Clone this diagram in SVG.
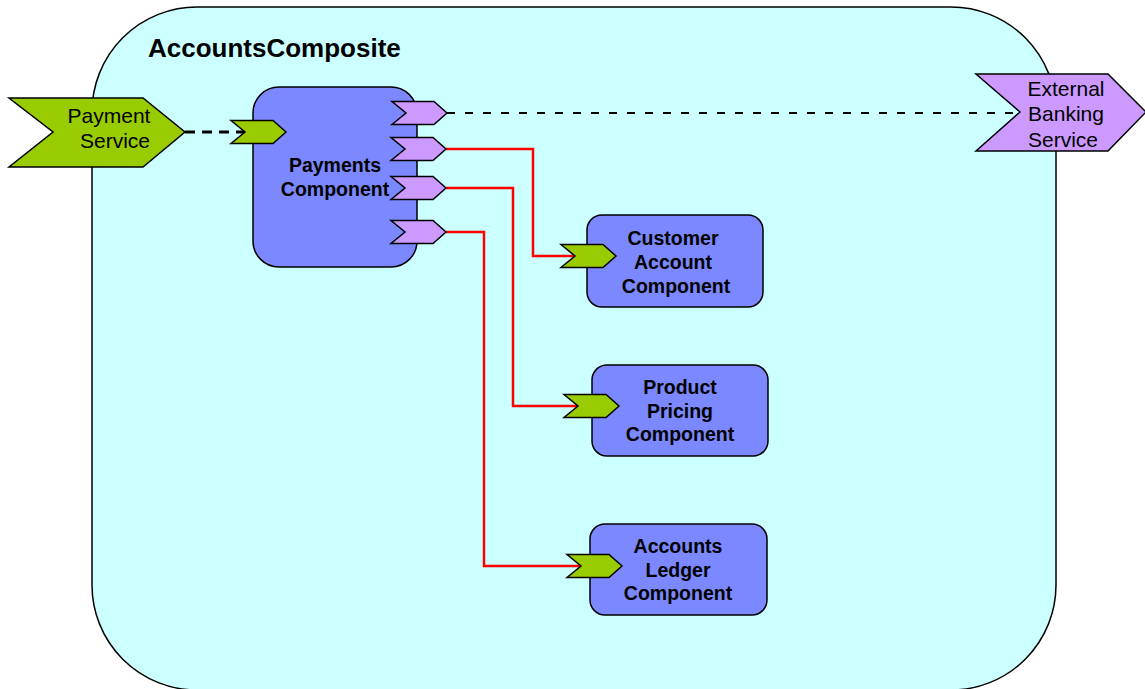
<svg xmlns="http://www.w3.org/2000/svg" width="1145" height="689" viewBox="0 0 1145 689">
  <style>
    .composite { fill: #CCFFFF; stroke: #000; stroke-width: 1.5; }
    .component { fill: #7B88FF; stroke: #000; stroke-width: 1.5; }
    .service { fill: #99CC00; stroke: #000; stroke-width: 1.5; stroke-linejoin: miter; }
    .reference { fill: #CC99FF; stroke: #000; stroke-width: 1.5; stroke-linejoin: miter; }
    .wire { fill: none; stroke: #FF0000; stroke-width: 2.5; }
    .promote { fill: none; stroke: #000; stroke-width: 3; stroke-dasharray: 10 7; }
    .binding { fill: none; stroke: #000; stroke-width: 2; stroke-dasharray: 8 10; }
    .title { font-family: "Liberation Sans", Arial, sans-serif; font-weight: bold; font-size: 26px; fill: #000; }
    .label { font-family: "Liberation Sans", Arial, sans-serif; font-weight: bold; font-size: 19.5px; fill: #000; text-anchor: middle; }
    .ext { font-family: "Liberation Sans", Arial, sans-serif; font-size: 21px; fill: #000; text-anchor: middle; }
  </style>
  <defs>
    <!-- chevron port shape, 55 wide, 23 high, origin at the left edge mid-height -->
    <path id="port" d="M0,-11.5 H42 L55,0 L42,11.5 H0 L14,0 Z"/>
  </defs>

  <g id="AccountsComposite">
    <rect class="composite" x="92" y="7" width="964" height="683" rx="105" ry="105"/>
    <text class="title" x="148" y="57">AccountsComposite</text>
  </g>

  <g id="connectors">
    <path class="promote" d="M185,132 H245"/>
    <path class="binding" d="M447,113 H1020"/>
    <path class="wire" d="M446,149 H533 V256 H575"/>
    <path class="wire" d="M446,188 H513 V406 H578"/>
    <path class="wire" d="M446,232 H484 V566 H580"/>
  </g>

  <g id="PaymentService">
    <polygon class="service" points="9,98 143,98 185,132 143,167 9,167 53,132"/>
    <text class="ext" x="109" y="123">Payment</text>
    <text class="ext" x="115" y="148">Service</text>
  </g>

  <g id="ExternalBankingService">
    <polygon class="reference" points="976,74 1108,74 1146,112 1108,151 976,151 1020,112"/>
    <text class="ext" x="1066" y="96">External</text>
    <text class="ext" x="1066" y="121">Banking</text>
    <text class="ext" x="1063" y="147">Service</text>
  </g>

  <g id="PaymentsComponent">
    <rect class="component" x="253" y="87" width="164" height="180" rx="26" ry="26"/>
    <use href="#port" class="service" x="231" y="132"/>
    <use href="#port" class="reference" x="392" y="113"/>
    <use href="#port" class="reference" x="391" y="149"/>
    <use href="#port" class="reference" x="391" y="188"/>
    <use href="#port" class="reference" x="391" y="232"/>
    <text class="label" x="335" y="172">Payments</text>
    <text class="label" x="335" y="196">Component</text>
  </g>

  <g id="CustomerAccountComponent">
    <rect class="component" x="587" y="215" width="176" height="92" rx="15" ry="15"/>
    <use href="#port" class="service" x="561" y="256"/>
    <text class="label" x="673" y="245">Customer</text>
    <text class="label" x="673" y="269">Account</text>
    <text class="label" x="676" y="293">Component</text>
  </g>

  <g id="ProductPricingComponent">
    <rect class="component" x="592" y="365" width="176" height="91" rx="15" ry="15"/>
    <use href="#port" class="service" x="564" y="406"/>
    <text class="label" x="680" y="394">Product</text>
    <text class="label" x="680" y="418">Pricing</text>
    <text class="label" x="680" y="441">Component</text>
  </g>

  <g id="AccountsLedgerComponent">
    <rect class="component" x="590" y="524" width="177" height="91" rx="15" ry="15"/>
    <use href="#port" class="service" x="567" y="566"/>
    <text class="label" x="678" y="553">Accounts</text>
    <text class="label" x="678" y="577">Ledger</text>
    <text class="label" x="678" y="600">Component</text>
  </g>
</svg>
